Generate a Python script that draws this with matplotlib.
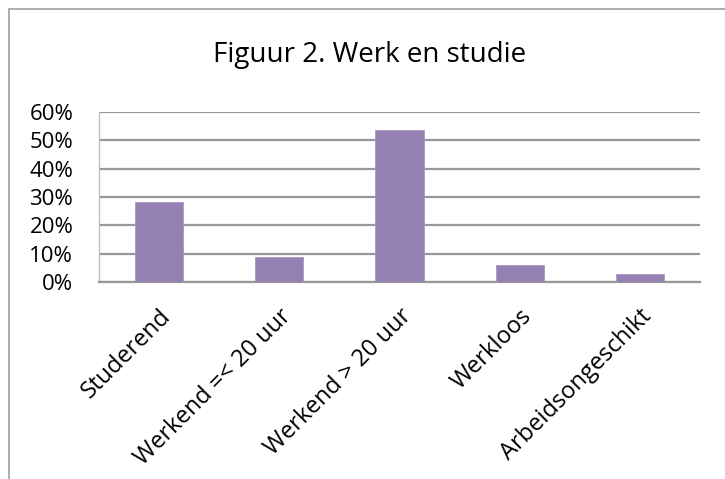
import matplotlib

matplotlib.use("Agg")

import matplotlib.pyplot as plt  # noqa: E402
from matplotlib.patches import Rectangle  # noqa: E402
from matplotlib.ticker import PercentFormatter  # noqa: E402
import matplotlib.transforms as mtransforms  # noqa: E402

categories = ["Studerend", "Werkend =< 20 uur", "Werkend > 20 uur", "Werkloos", "Arbeidsongeschikt"]
shares = [0.283, 0.089, 0.536, 0.060, 0.028]
y_ticks = [0.0, 0.1, 0.2, 0.3, 0.4, 0.5, 0.6]

plt.rcParams["font.family"] = ["Open Sans", "DejaVu Sans"]

fig = plt.figure(figsize=(7.25, 4.79), dpi=100)
fig.patches.append(Rectangle((9 / 725, -0.1), 1.2, 1 - 9 / 479 + 0.1, transform=fig.transFigure,
                             fill=False, edgecolor="#a6a6a6", linewidth=1.3))

ax = fig.add_axes([99 / 725, 1 - 282 / 479, 601 / 725, 170 / 479])
positions = range(len(categories))
ax.bar(positions, shares, width=0.4, color="#9480b2", edgecolor="#a898c4", linewidth=0.6, zorder=3)
ax.set_xlim(-0.5, len(categories) - 0.5)
ax.set_ylim(0, 0.6)
ax.set_yticks(y_ticks)
ax.yaxis.set_major_formatter(PercentFormatter(1.0, decimals=0))
ax.grid(axis="y", color="#989898", linewidth=1.6, zorder=0)
ax.set_axisbelow(True)
for side in ("top", "right"):
    ax.spines[side].set_visible(False)
ax.spines["left"].set_color("#c0c0c0")
ax.spines["left"].set_linewidth(1.0)
ax.spines["bottom"].set_color("#989898")
ax.spines["bottom"].set_linewidth(1.6)
ax.tick_params(axis="both", length=0, labelsize=16, colors="black")
ax.tick_params(axis="y", pad=18.5)
ax.tick_params(axis="x", pad=3, labelsize=17)
ax.set_xticks(list(positions))
ax.set_xticklabels(categories, rotation=45, ha="right", va="top", rotation_mode="anchor")
offset = mtransforms.ScaledTranslation(0, -18 / 100, fig.dpi_scale_trans)
for label in ax.get_xticklabels():
    label.set_transform(label.get_transform() + offset)
for label in ax.get_yticklabels():
    label.set_ha("right")

fig.text(370 / 725, 1 - 55 / 479, "Figuur 2. Werk en studie", ha="center", va="center", fontsize=20)

fig.savefig("out.png", dpi=100)
